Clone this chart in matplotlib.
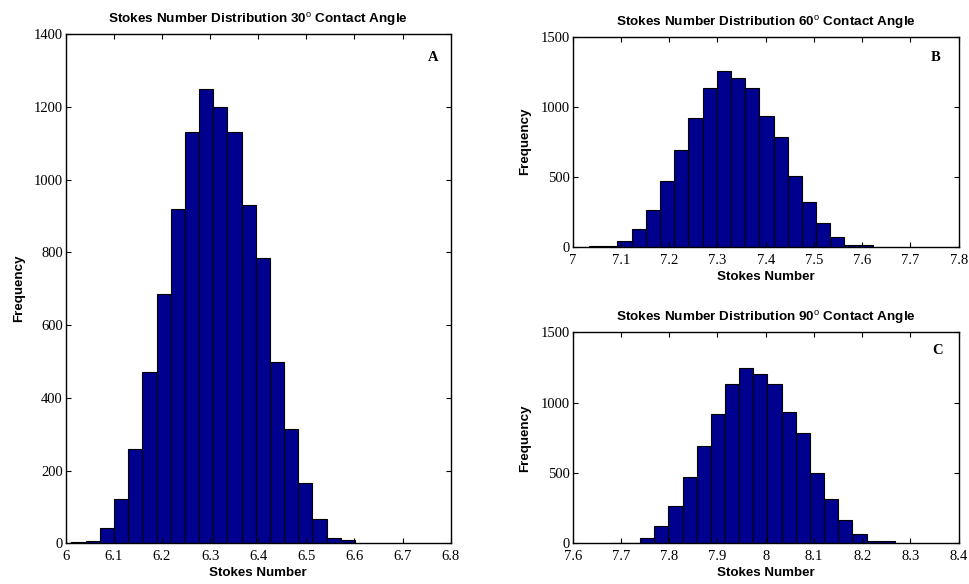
import numpy as np
import matplotlib
matplotlib.use("Agg")
import matplotlib.pyplot as plt
from matplotlib.ticker import FuncFormatter

plt.rcParams["mathtext.fontset"] = "custom"
plt.rcParams["mathtext.rm"] = "Liberation Sans"
plt.rcParams["mathtext.it"] = "Liberation Sans:italic"
plt.rcParams["mathtext.bf"] = "Liberation Sans:bold"

# Histogram data: first bin edge, bin width and 20 bin counts per contact angle
start_30, width_30 = 6.012, 0.02945
counts_30 = [3, 5, 42, 122, 260, 472, 686, 918, 1131, 1248,
             1200, 1131, 931, 783, 498, 313, 165, 67, 15, 8]

start_60, width_60 = 7.034, 0.0294
counts_60 = [2, 3, 40, 126, 262, 471, 689, 921, 1131, 1252,
             1203, 1131, 934, 786, 502, 317, 168, 69, 13, 12]

start_90, width_90 = 7.681, 0.02933
counts_90 = [3, 3, 40, 126, 262, 471, 689, 921, 1131, 1248,
             1200, 1131, 934, 786, 500, 317, 168, 69, 14, 13]

xticks_30 = [6.0, 6.1, 6.2, 6.3, 6.4, 6.5, 6.6, 6.7, 6.8]
xticks_60 = [7.0, 7.1, 7.2, 7.3, 7.4, 7.5, 7.6, 7.7, 7.8]
xticks_90 = [7.6, 7.7, 7.8, 7.9, 8.0, 8.1, 8.2, 8.3, 8.4]
yticks_30 = [0, 200, 400, 600, 800, 1000, 1200, 1400]
yticks_small = [0, 500, 1000, 1500]

angles = ["30", "60", "90"]
letters = ["A", "B", "C"]

BAR = "#00008F"
SANS = "Liberation Sans"
SERIF = "Liberation Serif"

fig = plt.figure(figsize=(9.69, 5.84), dpi=100)
ax_a = fig.add_axes([0.0678, 0.0697, 0.3973, 0.8721])
ax_b = fig.add_axes([0.5910, 0.5776, 0.3984, 0.3596])
ax_c = fig.add_axes([0.5910, 0.0697, 0.3984, 0.3613])

panels = [
    (ax_a, start_30, width_30, counts_30, xticks_30, yticks_30, angles[0], letters[0], (0.954, 0.953)),
    (ax_b, start_60, width_60, counts_60, xticks_60, yticks_small, angles[1], letters[1], (0.94, 0.90)),
    (ax_c, start_90, width_90, counts_90, xticks_90, yticks_small, angles[2], letters[2], (0.944, 0.916)),
]

fmt = FuncFormatter(lambda v, p: "%g" % round(v, 3))

for ax, start, w, counts, xt, yt, ang, let, lpos in panels:
    edges = start + w * np.arange(len(counts) + 1)
    ax.bar(edges[:-1], counts, width=w, align="edge", color=BAR,
           edgecolor="black", linewidth=0.8)
    ax.set_xlim(xt[0], xt[-1])
    ax.set_ylim(yt[0], yt[-1])
    ax.set_xticks(xt)
    ax.set_yticks(yt)
    ax.xaxis.set_major_formatter(fmt)
    ax.yaxis.set_major_formatter(fmt)
    ax.tick_params(direction="in", top=True, right=True, length=3.5,
                   width=0.8, labelsize=10.5)
    ax.tick_params(axis="x", pad=5)
    ax.tick_params(axis="y", pad=2)
    for lab in ax.get_xticklabels() + ax.get_yticklabels():
        lab.set_fontfamily(SERIF)
    for s in ax.spines.values():
        s.set_linewidth(1.0)
    ax.set_title("Stokes Number Distribution %s$^{\\mathrm{o}}$ Contact Angle" % ang,
                 fontsize=9.7, fontweight="bold", fontfamily=SANS, pad=8)
    ax.set_xlabel("Stokes Number", fontsize=9.6, fontweight="bold",
                  fontfamily=SANS, labelpad=3)
    ax.set_ylabel("Frequency", fontsize=9.6, fontweight="bold",
                  fontfamily=SANS, labelpad=7)
    ax.text(lpos[0], lpos[1], let, transform=ax.transAxes, ha="center",
            va="center", fontsize=10.5, fontweight="bold", fontfamily=SERIF)

ax_a.yaxis.labelpad = 6

fig.savefig("out.png", dpi=100)
